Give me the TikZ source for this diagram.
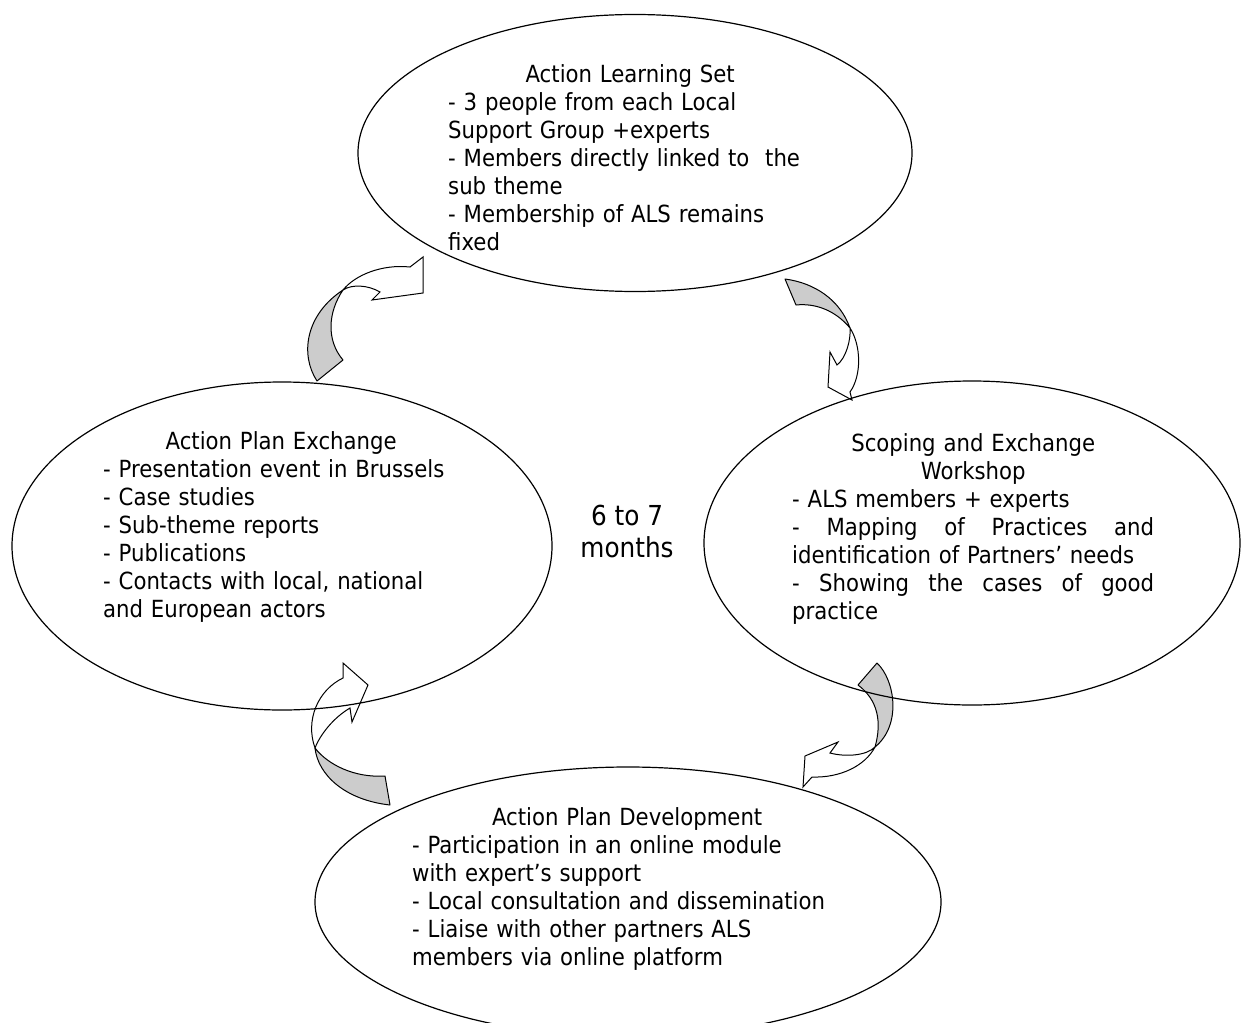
\documentclass[tikz,border=0pt]{standalone}
\usepackage{fontspec}
\setmainfont{DejaVu Sans Condensed}
\usetikzlibrary{shapes.geometric}
\tikzset{
  bubble/.style={ellipse, draw, line width=1.2pt, inner sep=0pt},
  blurb/.style={anchor=base west, inner sep=0pt, text width=#1, align=left, font=\fontsize{23.6}{28}\selectfont},
  backfold/.style={draw, fill=gray!40, line width=1pt, line join=round},
  frontfold/.style={draw, fill=white, line width=1pt},
}
\begin{document}
\begin{tikzpicture}[x=1pt,y=-1pt]
        \clip (0,0) rectangle (1244,1022);
        \fill[white] (0,0) rectangle (1244,1022);

        \draw[backfold] (317,381) .. controls (300,355) and (305,315) .. (343,290) .. controls (328,312) and (326,340) .. (343,360) -- cycle;
        \draw[frontfold] (343,290) .. controls (355,275) and (382,264) .. (410,267) -- (423,257) -- (423,293) -- (372,300) -- (380,292) .. controls (368,285) and (352,284) .. (343,290) -- cycle;

        \draw[backfold] (785,279) .. controls (815,283) and (840,300) .. (850,328) .. controls (835,310) and (815,303) .. (796,305) -- cycle;
        \draw[frontfold] (850,328) .. controls (861,345) and (862,375) .. (850,392) -- (852,400) -- (828,387) -- (830,352) -- (837,365) .. controls (846,358) and (851,340) .. (850,328) -- cycle;

        \draw[backfold] (877,663) .. controls (895,680) and (902,725) .. (875,747) .. controls (882,722) and (878,700) .. (858,685) -- cycle;
        \draw[frontfold] (875,747) .. controls (865,766) and (840,778) .. (812,777) -- (803,787) -- (805,756) -- (838,742) -- (830,753) .. controls (845,757) and (866,756) .. (875,747) -- cycle;

        \draw[backfold] (315,748) .. controls (318,775) and (345,800) .. (390,805) -- (385,776) .. controls (355,778) and (328,765) .. (315,748) -- cycle;
        \draw[frontfold] (315,748) .. controls (305,720) and (318,690) .. (343,678) -- (343,663) -- (368,685) -- (352,722) -- (350,708) .. controls (333,718) and (320,735) .. (315,748) -- cycle;

        \node[bubble, minimum width=554, minimum height=277] (als) at (635,153) {};
        \node[bubble, minimum width=540, minimum height=328] (ape) at (282,546) {};
        \node[bubble, minimum width=536, minimum height=324] (sew) at (972,543) {};
        \node[bubble, minimum width=626, minimum height=270] (apd) at (628,902) {};

        \node[blurb=364] (alstext) at (448,83) {\makebox[\linewidth]{Action Learning Set}\\- 3 people from each Local\\Support Group +experts\\- Members directly linked to\ \ the\\sub theme\\- Membership of ALS remains\\fixed};
        \node[blurb=356] (apetext) at (103,449) {\makebox[\linewidth]{Action Plan Exchange}\\- Presentation event in Brussels\\- Case studies\\- Sub-theme reports\\- Publications\\- Contacts with local, national\\and European actors};
        \node[blurb=362] (sewtext) at (792,451) {\makebox[\linewidth]{Scoping and Exchange}\\\makebox[\linewidth]{Workshop}\\- ALS members + experts\\-\hfill Mapping\hfill of\hfill Practices\hfill and\\identification of Partners’ needs\\-\hfill Showing\hfill the\hfill cases\hfill of\hfill good\\practice};
        \node[blurb=430] (apdtext) at (412,825) {\makebox[\linewidth]{Action Plan Development}\\- Participation in an online module\\with expert’s support\\- Local consultation and dissemination\\- Liaise with other partners ALS\\members via online platform};

        \node[font=\fontsize{27.5}{32}\selectfont, align=center, inner sep=0pt] (span) at (627,531) {6 to 7\\months};
    \end{tikzpicture}
\end{document}
